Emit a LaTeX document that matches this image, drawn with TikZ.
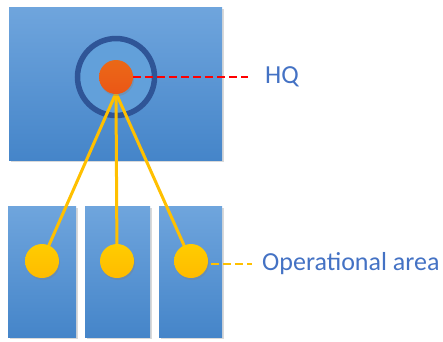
\documentclass[tikz,border=0pt]{standalone}
\usepackage{fontspec}
\setmainfont{Carlito}
\usetikzlibrary{shadows}
\definecolor{boxtop}{HTML}{6FA5DD}
\definecolor{boxbot}{HTML}{4585C9}
\definecolor{ringc}{HTML}{2F5597}
\definecolor{ringin}{HTML}{62A0DA}
\definecolor{hqc}{HTML}{E8661A}
\definecolor{opc}{HTML}{FFC000}
\definecolor{labc}{HTML}{4472C4}
\tikzset{
  area/.style={top color=boxtop, bottom color=boxbot, draw=none, inner sep=0pt, drop shadow={shadow xshift=1.5pt, shadow yshift=-1.5pt, opacity=0.3}},
  dot/.style={circle, inner sep=0pt, minimum size=34pt, draw=none, drop shadow={shadow xshift=1pt, shadow yshift=-2pt, opacity=0.35}},
  opdot/.style={dot, top color=opc!80!yellow, bottom color=opc!92!orange},
  link/.style={opc, line width=3pt},
  lab/.style={text=labc, font=\fontsize{26}{26}\selectfont, anchor=west, inner sep=0pt}
}
\begin{document}
\begin{tikzpicture}[x=1pt,y=-1pt]
\useasboundingbox (0,0) rectangle (443,341);
\node[area, minimum width=213pt, minimum height=153pt] (top) at (115.5,83.5) {};
\node[area, minimum width=68pt, minimum height=131pt] (b1) at (42,271.5) {};
\node[area, minimum width=65pt, minimum height=131pt] (b2) at (117.5,271.5) {};
\node[area, minimum width=63pt, minimum height=131pt] (b3) at (190.5,271.5) {};
\node[circle, draw=ringc, line width=5.5pt, fill=ringin, minimum size=77pt, inner sep=0pt, drop shadow={shadow xshift=1pt, shadow yshift=-2pt, opacity=0.3}] (ring) at (116,77) {};
\coordinate (hub) at (116,93);
\coordinate (c1) at (42,261);
\coordinate (c2) at (117,261);
\coordinate (c3) at (191,261);
\draw[link] (hub) -- (c1);
\draw[link] (hub) -- (c2);
\draw[link] (hub) -- (c3);
\node[opdot] (o1) at (c1) {};
\node[opdot] (o2) at (c2) {};
\node[opdot] (o3) at (c3) {};
\node[dot, top color=hqc!90!orange, bottom color=hqc!85!red] (hq) at (116,77) {};
\node[lab] (hqlab) at (265,77) {HQ};
\node[lab] (oplab) at (262,264) {Operational area};
\coordinate (hqend) at (248,77);
\coordinate (opstart) at (211,264);
\coordinate (opend) at (252,264);
\draw[red, line width=2.5pt, dash pattern=on 8pt off 4pt] (hq.east) -- (hqend);
\draw[opc, line width=2.5pt, dash pattern=on 8pt off 4pt] (opstart) -- (opend);
\end{tikzpicture}
\end{document}
